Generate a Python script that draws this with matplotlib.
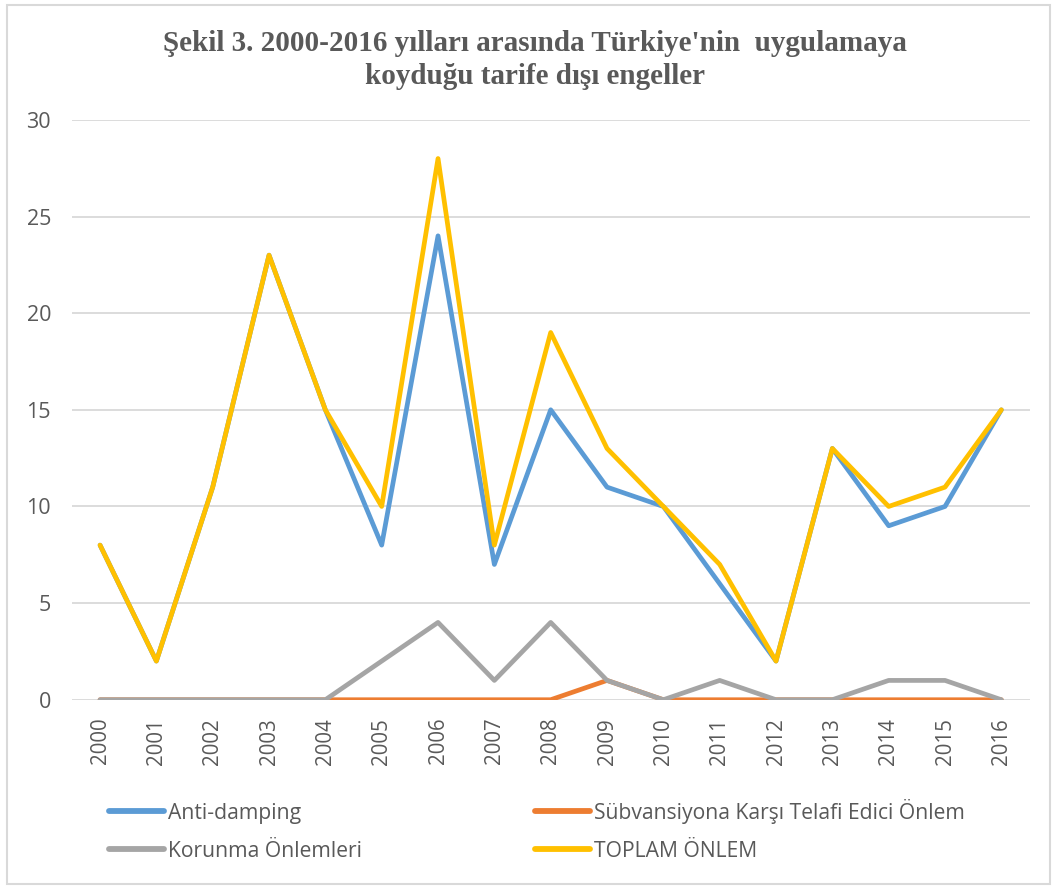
import matplotlib
matplotlib.use("Agg")
import matplotlib.pyplot as plt
from matplotlib.patches import Rectangle

years = [str(y) for y in range(2000, 2017)]
anti_damping = [8, 2, 11, 23, 15, 8, 24, 7, 15, 11, 10, 6, 2, 13, 9, 10, 15]
subvansiyon = [0, 0, 0, 0, 0, 0, 0, 0, 0, 1, 0, 0, 0, 0, 0, 0, 0]
korunma = [0, 0, 0, 0, 0, 2, 4, 1, 4, 1, 0, 1, 0, 0, 1, 1, 0]
toplam = [8, 2, 11, 23, 15, 10, 28, 8, 19, 13, 10, 7, 2, 13, 10, 11, 15]
labels = ["Anti-damping", "Sübvansiyona Karşı Telafi Edici Önlem",
          "Korunma Önlemleri", "TOPLAM ÖNLEM"]
yticks = [0, 5, 10, 15, 20, 25, 30]

txt = "#595959"
fig = plt.figure(figsize=(10.57, 8.88), dpi=100)
fig.patches.append(Rectangle((0.007, 0.004), 0.986, 0.99, transform=fig.transFigure,
                             fill=False, edgecolor="#D9D9D9", linewidth=1.5))
ax = fig.add_axes([0.068, 0.212, 0.906, 0.653])
x = list(range(len(years)))
lw = 3.4
kw = dict(lw=lw, solid_joinstyle="round", solid_capstyle="round")
l1, = ax.plot(x, anti_damping, color="#5B9BD5", label=labels[0], zorder=3, **kw)
l2, = ax.plot(x, subvansiyon, color="#ED7D31", label=labels[1], zorder=4, **kw)
l3, = ax.plot(x, korunma, color="#A5A5A5", label=labels[2], zorder=5, **kw)
l4, = ax.plot(x, toplam, color="#FFC000", label=labels[3], zorder=6, **kw)

ax.set_xlim(-0.5, len(years) - 0.5)
ax.set_ylim(0, 30)
ax.set_yticks(yticks)
ax.set_xticks(x)
ax.set_xticklabels(years, rotation=90)
ax.grid(axis="y", color="#D9D9D9", lw=1.3)
ax.set_axisbelow(True)
for s in ax.spines.values():
    s.set_visible(False)
ax.tick_params(axis="both", length=0, colors=txt)
ax.tick_params(axis="y", pad=15, labelsize=15.5)
ax.tick_params(axis="x", pad=13, labelsize=14.8)
for t in ax.get_xticklabels() + ax.get_yticklabels():
    t.set_fontfamily("Open Sans")
    t.set_color(txt)

fig.text(0.506, 0.966, "Şekil 3. 2000-2016 yılları arasında Türkiye'nin  uygulamaya\nkoyduğu tarife dışı engeller",
         ha="center", va="top", fontsize=21, fontweight="bold", family="Liberation Serif",
         color=txt, linespacing=1.3)

leg = fig.legend([l1, l3, l2, l4], [labels[0], labels[2], labels[1], labels[3]],
                 ncol=2, loc="upper left", bbox_to_anchor=(0.085, 0.122),
                 frameon=False, handlelength=2.6, handletextpad=0.2,
                 columnspacing=8.2, labelspacing=0.8,
                 prop={"family": "Open Sans", "size": 15.2})
for t in leg.get_texts():
    t.set_color(txt)
for h in leg.legend_handles:
    h.set_linewidth(4.2)
    h.set_solid_capstyle("round")

fig.savefig("out.png", dpi=100)
